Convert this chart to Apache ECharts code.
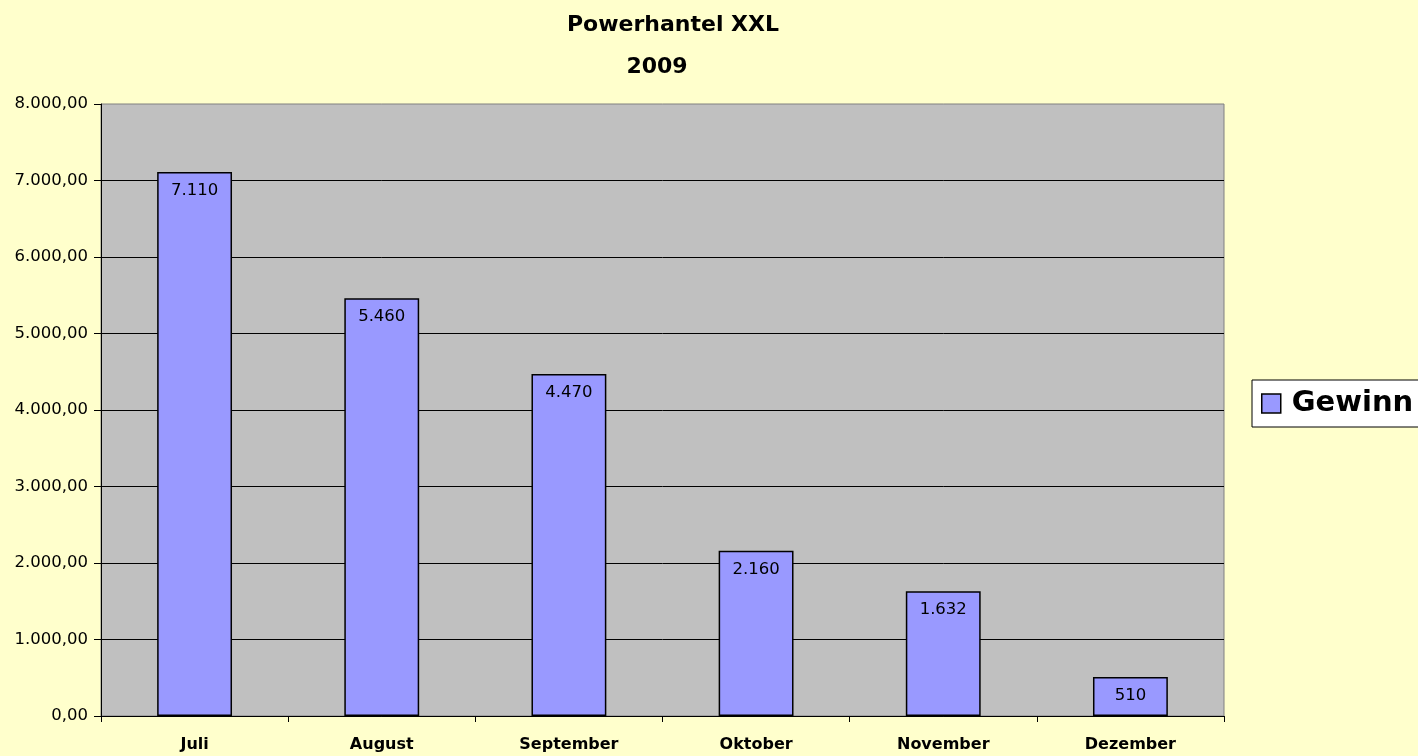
<!DOCTYPE html>
<html><head><meta charset="utf-8">
<script src="https://cdn.jsdelivr.net/npm/echarts@6/dist/echarts.min.js"></script>
<style>html,body{margin:0;padding:0;background:#FFFFCC}#c{width:1418px;height:756px}</style>
</head><body><div id="c"></div>
<script>
const categories = ['Juli','August','September','Oktober','November','Dezember'];
const gewinn = [7110, 5460, 4470, 2160, 1632, 510];
const seriesName = 'Gewinn';
const titleMain = 'Powerhantel XXL';
const titleSub = '2009';

function fmtThousands(v, dec) {
  const s = Number(v).toFixed(dec);
  let [i, d] = s.split('.');
  i = i.replace(/\B(?=(\d{3})+(?!\d))/g, '.');
  return d ? i + ',' + d : i;
}

const FONT = 'DejaVu Sans, Liberation Sans, Arial, sans-serif';
const chart = echarts.init(document.getElementById('c'));
chart.setOption({
  backgroundColor: '#FFFFCC',
  animation: false,
  textStyle: { fontFamily: FONT },
  title: [
    { text: titleMain, left: 668, top: 9, textAlign: 'center',
      textStyle: { fontSize: 22, fontWeight: 'bold', color: '#000', fontFamily: FONT } },
    { text: titleSub, left: 652, top: 51, textAlign: 'center',
      textStyle: { fontSize: 22, fontWeight: 'bold', color: '#000', fontFamily: FONT } }
  ],
  legend: {
    data: [seriesName],
    left: 1252, top: 380,
    orient: 'vertical',
    backgroundColor: '#fff',
    borderColor: '#000', borderWidth: 1, borderRadius: 0,
    padding: [9, 60, 9, 9],
    itemWidth: 19, itemHeight: 19, itemGap: 0,
    icon: 'rect',
    itemStyle: { borderColor: '#000', borderWidth: 1.5 },
    textStyle: { fontSize: 29, fontWeight: 'bold', color: '#000', fontFamily: FONT, padding: [0,0,0,6] }
  },
  grid: { left: 101, right: 194, top: 104, bottom: 40, show: true,
    backgroundColor: '#C0C0C0', borderColor: '#808080', borderWidth: 1 },
  xAxis: {
    type: 'category', data: categories,
    axisLine: { lineStyle: { color: '#000', width: 1 } },
    axisTick: { show: true, alignWithLabel: false, length: 6, lineStyle: { color: '#000' } },
    axisLabel: { fontSize: 16, fontWeight: 'bold', color: '#000', margin: 21, fontFamily: FONT }
  },
  yAxis: {
    type: 'value', min: 0, max: 8000, interval: 1000,
    axisLine: { show: true, lineStyle: { color: '#000', width: 1 } },
    axisTick: { show: true, length: 7, lineStyle: { color: '#000' } },
    splitLine: { show: true, showMaxLine: false, lineStyle: { color: '#000', width: 1 } },
    axisLabel: { fontSize: 16.5, color: '#000', margin: 13, fontFamily: FONT,
      formatter: v => fmtThousands(v, 2) }
  },
  series: [{
    name: seriesName, type: 'bar', data: gewinn,
    barWidth: '40%',
    itemStyle: { color: '#9999FF', borderColor: '#000', borderWidth: 1.5 },
    label: { show: true, position: 'insideTop', distance: 10, fontSize: 16.5, color: '#000', fontFamily: FONT,
      formatter: p => fmtThousands(p.value, 0) }
  }]
});
</script></body></html>
